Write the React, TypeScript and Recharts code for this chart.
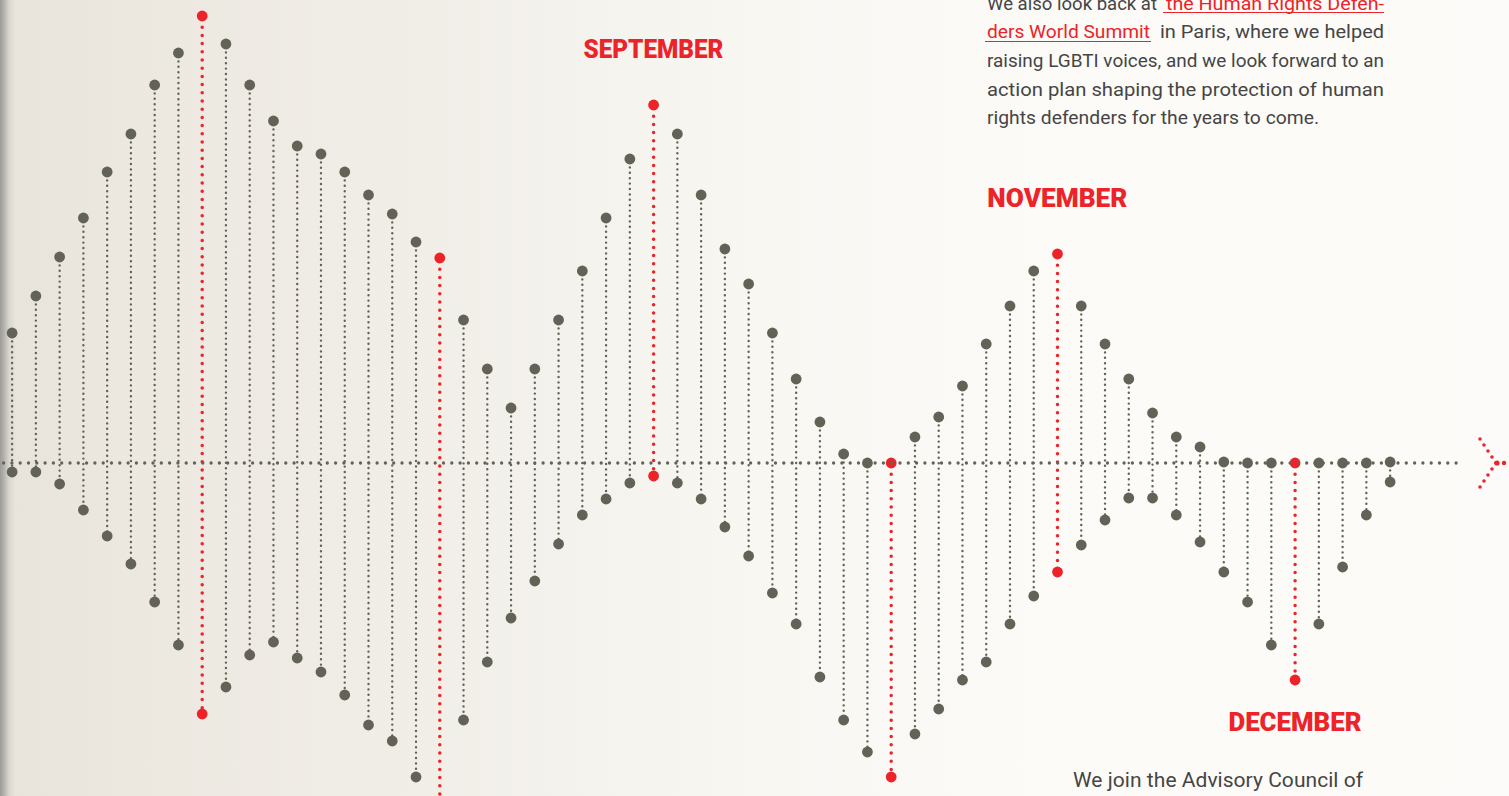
import { ComposedChart, Bar, XAxis, YAxis, ReferenceLine, ReferenceDot } from 'recharts'

// values are heights above / depths below the centre line, one per week
const above = [
  130, 167, 206, 245, 291, 329, 378, 410, 447, 419, 378, 342, 317, 309, 291, 268,
  249, 221, 205, 143, 94, 55, 94, 143, 192, 245, 304, 358, 329, 268, 214, 179,
  130, 84, 41, 9, 0, 0, 26, 46, 77, 119, 157, 192, 209, 157, 119, 84,
  50, 26, 16, 1, 0, 0, 0, 0, 0, 0, 1,
]
const below = [
  9, 9, 21, 47, 73, 101, 139, 182, 251, 224, 192, 179, 195, 209, 232, 262,
  278, 314, 357, 257, 199, 155, 118, 81, 52, 36, 20, 13, 20, 36, 64, 93,
  130, 161, 214, 257, 289, 314, 271, 246, 217, 199, 161, 133, 109, 82, 57, 35,
  35, 52, 79, 109, 139, 182, 217, 161, 104, 52, 19,
]
const highlighted = [8, 18, 27, 37, 44, 54]

const monthLabels = ['SEPTEMBER', 'NOVEMBER', 'DECEMBER']
const monthColumns = [27, 44, 54]

const RED = '#ec2329'
const GREY = '#636257'
const TEXT = '#454545'

const W = 1509
const H = 796
const FIRST_X = 12
const STEP = (1390 - 12) / 58
const BASE_Y = 463

const data = above.map((a, i) => ({
  week: i,
  range: [-below[i], a],
  red: highlighted.includes(i),
}))

const colX = (i: number) => FIRST_X + STEP * i
const toWeek = (px: number) => (px - FIRST_X) / STEP
const toVal = (py: number) => BASE_Y - py

function Stem(props: any) {
  const { x, y, width, height, payload } = props
  if (x == null || y == null) return null
  const cx = x + width / 2
  const y1 = Math.min(y, y + height)
  const y2 = Math.max(y, y + height)
  const color = payload.red ? RED : GREY
  return (
    <g>
      <line
        x1={cx}
        x2={cx}
        y1={y1 + 3}
        y2={y2 - 3}
        stroke={color}
        strokeWidth={payload.red ? 3.5 : 2.4}
        strokeDasharray={payload.red ? '0 8.2' : '0 5.4'}
        strokeLinecap="round"
      />
      <circle cx={cx} cy={y1} r={5.4} fill={color} />
      <circle cx={cx} cy={y2} r={5.4} fill={color} />
    </g>
  )
}

const labelY = [58, 207, 731]
const labelWidth = [140, 140, 133]

export default function App() {
  return (
    <div
      style={{
        position: 'absolute',
        left: 0,
        top: 0,
        width: W,
        height: H,
        overflow: 'hidden',
        background:
          'linear-gradient(90deg, #9d9b96 0px, #b4b2ac 4px, #d9d6cf 9px, #e8e4dc 15px, #ece8e0 120px, #f1eee8 420px, #f8f7f2 760px, #fcfbf8 1100px, #fcfbf9 1509px)',
      }}
    >
      <ComposedChart width={W} height={H} data={data} margin={{ top: 0, right: 0, bottom: 0, left: 0 }}>
        <XAxis
          type="number"
          dataKey="week"
          domain={[toWeek(0), toWeek(W)]}
          allowDataOverflow
          hide
        />
        <YAxis type="number" domain={[toVal(H), toVal(0)]} allowDataOverflow hide />
        <ReferenceLine
          segment={[
            { x: toWeek(3.6), y: 0 },
            { x: toWeek(1458), y: 0 },
          ]}
          stroke={GREY}
          strokeWidth={3.3}
          strokeDasharray="0 8.3"
          strokeLinecap="round"
        />
        <ReferenceLine
          segment={[
            { x: toWeek(1480), y: toVal(439) },
            { x: toWeek(1496), y: toVal(463) },
          ]}
          stroke={RED}
          strokeWidth={3.6}
          strokeDasharray="0 7.2"
          strokeLinecap="round"
        />
        <ReferenceLine
          segment={[
            { x: toWeek(1480), y: toVal(487) },
            { x: toWeek(1496), y: toVal(463) },
          ]}
          stroke={RED}
          strokeWidth={3.6}
          strokeDasharray="0 7.2"
          strokeLinecap="round"
        />
        <ReferenceDot x={toWeek(1497)} y={0} r={2.6} fill={RED} stroke="none" />
        <ReferenceDot x={toWeek(1504)} y={0} r={2.2} fill={RED} stroke="none" />
        <Bar dataKey="range" barSize={4} shape={<Stem />} isAnimationActive={false} />
      </ComposedChart>

      <svg
        width={W}
        height={H}
        style={{ position: 'absolute', left: 0, top: 0, pointerEvents: 'none' }}
      >
        {monthLabels.map((m, i) => (
          <text
            key={m}
            x={colX(monthColumns[i])}
            y={labelY[i]}
            textAnchor="middle"
            fontFamily="Roboto, 'DejaVu Sans', sans-serif"
            fontWeight={900}
            fontSize={26}
            fill={RED}
            textLength={labelWidth[i]}
            lengthAdjust="spacingAndGlyphs"
          >
            {m}
          </text>
        ))}

        <g fontFamily="Roboto, 'Noto Sans', sans-serif" fontSize={18.5} fill={TEXT}>
          <text x={987} y={9.5} textLength={170} lengthAdjust="spacingAndGlyphs">
            We also look back at
          </text>
          <text x={1166} y={9.5} fill={RED} textLength={218} lengthAdjust="spacingAndGlyphs">
            the Human Rights Defen-
          </text>
          <line x1={1163} x2={1384} y1={12.5} y2={12.5} stroke={RED} strokeWidth={1.2} />
          <text x={987} y={38} fill={RED} textLength={163} lengthAdjust="spacingAndGlyphs">
            ders World Summit
          </text>
          <line x1={985} x2={1151} y1={41.5} y2={41.5} stroke={RED} strokeWidth={1.2} />
          <text x={1160} y={38} textLength={224} lengthAdjust="spacingAndGlyphs">
            in Paris, where we helped
          </text>
          <text x={987} y={67} textLength={397} lengthAdjust="spacingAndGlyphs">
            raising LGBTI voices, and we look forward to an
          </text>
          <text x={987} y={95.5} textLength={397} lengthAdjust="spacingAndGlyphs">
            action plan shaping the protection of human
          </text>
          <text x={987} y={124} textLength={332} lengthAdjust="spacingAndGlyphs">
            rights defenders for the years to come.
          </text>
        </g>

        <text
          x={1073}
          y={787}
          fontFamily="Roboto, 'Noto Sans', sans-serif"
          fontSize={21}
          fill={TEXT}
          textLength={290}
          lengthAdjust="spacing"
        >
          We join the Advisory Council of
        </text>
      </svg>
    </div>
  )
}
